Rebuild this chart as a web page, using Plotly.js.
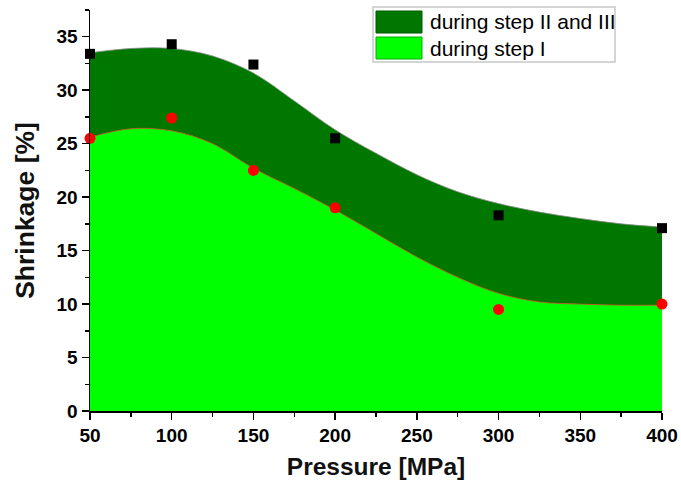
<!DOCTYPE html>
<html>
<head>
<meta charset="utf-8">
<script src="https://cdn.plot.ly/plotly-3.0.1.min.js"></script>
<style>html,body{margin:0;padding:0;background:#fff;}#chart{width:681px;height:486px;}</style>
</head>
<body>
<div id="chart"></div>
<script>
// measured points
const pressure = [50, 100, 150, 200, 300, 400];
const totalShrinkage = [33.4, 34.3, 32.4, 25.5, 18.3, 17.1];
const step1Shrinkage = [25.5, 27.4, 22.5, 19.0, 9.5, 10.0];

// fitted curves
const curveX = [50, 75, 100, 125, 150, 175, 200, 225, 250, 275, 300, 325, 350, 375, 400];
const curveUpper = [33.5, 33.9, 33.9, 33.2, 31.6, 29.0, 26.3, 24.1, 22.1, 20.5, 19.4, 18.6, 18.0, 17.5, 17.2];
const curveLower = [25.6, 26.4, 26.2, 25.0, 22.7, 20.8, 18.8, 16.6, 14.4, 12.5, 11.0, 10.2, 10.0, 9.9, 9.9];

const legendNames = ['during step II and III', 'during step I'];
const fillColors = ['#007800', '#00ff00'];

const traces = [
  {x: curveX, y: curveLower, type: 'scatter', mode: 'lines', name: legendNames[1], showlegend: false,
   line: {shape: 'spline', smoothing: 1, color: '#c84a1a', width: 0.8},
   fill: 'tozeroy', fillcolor: fillColors[1]},
  {x: curveX, y: curveUpper, type: 'scatter', mode: 'lines', name: legendNames[0], showlegend: false,
   line: {shape: 'spline', smoothing: 1, color: '#8a8a8a', width: 0.8},
   fill: 'tonexty', fillcolor: fillColors[0]},
  {x: pressure, y: totalShrinkage, type: 'scatter', mode: 'markers', showlegend: false,
   marker: {symbol: 'square', size: 10, color: '#000'}, cliponaxis: false},
  {x: pressure, y: step1Shrinkage, type: 'scatter', mode: 'markers', showlegend: false,
   marker: {symbol: 'circle', size: 11, color: '#ff0000'}, cliponaxis: false}
];

const fam = 'Arial, Liberation Sans, sans-serif';
const tickFont = {family: fam, size: 19, color: '#000', weight: 'bold'};

// custom legend (box, swatches, labels) in paper coordinates
const shapes = [
  {type: 'rect', xref: 'paper', yref: 'paper', x0: 0.4948, x1: 0.9178, y0: 0.8703, y1: 1.0075,
   fillcolor: '#fff', line: {color: '#c8c8c8', width: 1.5}, layer: 'above'},
  {type: 'rect', xref: 'paper', yref: 'paper', x0: 0.5, x1: 0.5804, y0: 0.9426, y1: 0.9975,
   fillcolor: fillColors[0], line: {color: '#005a00', width: 1}, layer: 'above'},
  {type: 'rect', xref: 'paper', yref: 'paper', x0: 0.5, x1: 0.5804, y0: 0.8778, y1: 0.9327,
   fillcolor: fillColors[1], line: {color: '#00b000', width: 1}, layer: 'above'}
];
const annotations = [
  {xref: 'paper', yref: 'paper', x: 0.5909, y: 0.9701, xanchor: 'left', yanchor: 'middle',
   text: legendNames[0], showarrow: false, font: {family: fam, size: 21, color: '#000'}},
  {xref: 'paper', yref: 'paper', x: 0.5909, y: 0.9052, xanchor: 'left', yanchor: 'middle',
   text: legendNames[1], showarrow: false, font: {family: fam, size: 21, color: '#000'}}
];

const layout = {
  width: 681, height: 486,
  margin: {l: 90, r: 19, t: 10, b: 75},
  paper_bgcolor: '#fff', plot_bgcolor: '#fff',
  showlegend: false,
  shapes: shapes,
  annotations: annotations,
  xaxis: {range: [50, 400], tickvals: [50, 100, 150, 200, 250, 300, 350, 400],
    showgrid: false, zeroline: false, showline: true, linecolor: '#000', linewidth: 1.5,
    ticks: 'outside', ticklen: 7, tickwidth: 1.5, tickcolor: '#000',
    minor: {dtick: 25, ticks: 'outside', ticklen: 4, tickwidth: 1.5, tickcolor: '#000'},
    tickfont: tickFont,
    title: {text: 'Pressure [MPa]', font: {family: fam, size: 24.5, color: '#111', weight: 'bold'}, standoff: 12}},
  yaxis: {range: [0, 37.5], tickvals: [0, 5, 10, 15, 20, 25, 30, 35],
    showgrid: false, zeroline: false, showline: true, linecolor: '#000', linewidth: 1.5,
    ticks: 'outside', ticklen: 7, tickwidth: 1.5, tickcolor: '#000',
    minor: {dtick: 2.5, ticks: 'outside', ticklen: 4, tickwidth: 1.5, tickcolor: '#000'},
    tickfont: tickFont,
    title: {text: 'Shrinkage [%]', font: {family: fam, size: 26.5, color: '#111', weight: 'bold'}, standoff: 14}}
};

Plotly.newPlot('chart', traces, layout, {displayModeBar: false, staticPlot: true});
</script>
</body>
</html>
